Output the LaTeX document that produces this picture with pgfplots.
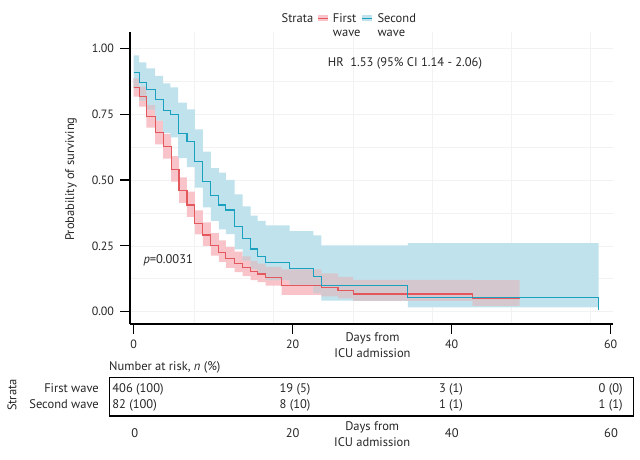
\documentclass[border=0pt]{standalone}
\usepackage{fontspec}
\setmainfont{PT Sans}
\usepackage{pgfplots}
\usepackage{pgfplotstable}
\pgfplotsset{compat=1.18}
\usepgfplotslibrary{fillbetween}

\definecolor{redline}{RGB}{226,88,92}
\definecolor{blueline}{RGB}{27,160,192}
\definecolor{redrib}{RGB}{248,196,201}
\definecolor{bluerib}{RGB}{192,226,236}
\definecolor{overlap}{RGB}{212,200,206}
\definecolor{gridc}{RGB}{242,242,242}

\pgfplotstableread{
t s lo up
0 0.851 0.817 0.886
0.67 0.816 0.779 0.855
1.6 0.740 0.699 0.784
2.7 0.679 0.635 0.726
3.7 0.626 0.581 0.675
4.7 0.540 0.494 0.591
5.7 0.459 0.413 0.510
6.7 0.405 0.360 0.456
7.7 0.336 0.293 0.385
8.7 0.291 0.250 0.339
9.7 0.252 0.213 0.298
10.7 0.226 0.189 0.271
11.6 0.202 0.166 0.245
12.7 0.184 0.150 0.228
13.7 0.168 0.135 0.210
14.7 0.152 0.120 0.193
15.6 0.143 0.112 0.182
16.6 0.128 0.099 0.170
18.6 0.098 0.064 0.160
23.6 0.091 0.058 0.145
25.7 0.080 0.050 0.132
27.6 0.067 0.041 0.121
42.6 0.049 0.022 0.120
48.55 0.049 0.022 0.120
}\first

\pgfplotstableread{
t s lo up
0 0.908 0.848 0.973
0.67 0.871 0.801 0.947
1.6 0.843 0.768 0.924
2.7 0.806 0.725 0.895
3.7 0.765 0.678 0.867
4.6 0.750 0.662 0.852
5.6 0.677 0.583 0.794
6.7 0.645 0.549 0.768
7.7 0.569 0.471 0.692
8.7 0.493 0.396 0.608
9.7 0.440 0.345 0.545
10.7 0.405 0.312 0.528
11.6 0.386 0.294 0.500
12.7 0.323 0.236 0.445
13.7 0.277 0.195 0.400
14.7 0.238 0.162 0.365
15.6 0.210 0.140 0.345
16.6 0.186 0.120 0.328
19.6 0.164 0.098 0.306
22.6 0.134 0.070 0.290
23.6 0.100 0.042 0.252
34.5 0.054 0.016 0.260
58.5 0.005 0.016 0.260
}\second

% where the two bands overlap
\pgfplotstableread{
t lo up
0 0.848 0.886
0.67 0.801 0.855
1.6 0.768 0.784
2.7 0.768 0.784
}\ovA

\pgfplotstableread{
t lo up
13.7 0.195 0.210
14.7 0.162 0.193
15.6 0.140 0.182
16.6 0.120 0.170
18.6 0.120 0.160
19.6 0.098 0.160
22.6 0.070 0.160
23.6 0.058 0.145
25.7 0.050 0.132
27.6 0.042 0.121
34.5 0.041 0.121
42.6 0.022 0.120
48.55 0.022 0.120
}\ovB

\begin{document}
\begin{tikzpicture}
\begin{axis}[
  at={(130pt,135pt)}, anchor=south west,
  scale only axis, width=483pt, height=292pt,
  xmin=-0.47, xmax=60.3, ymin=-0.047, ymax=1.062,
  axis x line*=bottom, axis y line*=left,
  axis line style={-, line width=1.4pt, black},
  tick pos=left,
  xtick={0,20,40,60}, xticklabels={0,20,40,60},
  ytick={0,0.25,0.5,0.75,1}, yticklabels={0.00,0.25,0.50,0.75,1.00},
  tick align=outside, major tick length=10pt,
  tick style={black, line width=1.2pt},
  tick label style={font=\fontsize{12}{14}\selectfont, text=black!85},
  yticklabel style={xshift=-2.5pt},
  xticklabel style={yshift=-2pt},
  ymajorgrids, yminorgrids, minor y tick num=1, minor tick length=0pt,
  extra x ticks={7.67,17.6,27.6,37.6,47.5,57.5}, extra x tick labels={},
  extra x tick style={grid=major, major tick length=0pt},
  grid style={gridc, line width=0.6pt},
  major grid style={gridc, line width=0.6pt},
  minor grid style={gridc, line width=0.6pt},
]
\addplot[const plot, draw=none, name path=rup, forget plot] table[x=t,y=up]{\first};
\addplot[const plot, draw=none, name path=rlo, forget plot] table[x=t,y=lo]{\first};
\addplot[const plot, draw=none, name path=bup, forget plot] table[x=t,y=up]{\second};
\addplot[const plot, draw=none, name path=blo, forget plot] table[x=t,y=lo]{\second};
\addplot[const plot, draw=none, name path=aup, forget plot] table[x=t,y=up]{\ovA};
\addplot[const plot, draw=none, name path=alo, forget plot] table[x=t,y=lo]{\ovA};
\addplot[const plot, draw=none, name path=cup, forget plot] table[x=t,y=up]{\ovB};
\addplot[const plot, draw=none, name path=clo, forget plot] table[x=t,y=lo]{\ovB};
\addplot[fill=redrib, draw=none] fill between[of=rup and rlo];
\addplot[fill=bluerib, draw=none] fill between[of=bup and blo];
\addplot[fill=overlap, draw=none] fill between[of=aup and alo];
\addplot[fill=overlap, draw=none] fill between[of=cup and clo];
\addplot[const plot, redline, line width=1.1pt] table[x=t,y=s]{\first};
\addplot[const plot, blueline, line width=1.1pt] table[x=t,y=s]{\second};
\end{axis}

\begin{scope}[every node/.style={font=\fontsize{12.5}{14}\selectfont, text=black!85, inner sep=0pt}]
% legend
\node[anchor=base] at (297.5pt,436.4pt) {Strata};
\fill[redrib] (317.7pt,437.7pt) rectangle (327.7pt,443.7pt);
\draw[redline, line width=1pt] (317.7pt,440.7pt) -- (327.7pt,440.7pt);
\node[anchor=base west] at (332.7pt,436.4pt) {First};
\node[anchor=base west] at (332.7pt,422.4pt) {wave};
\fill[bluerib] (362.3pt,437.7pt) rectangle (372.3pt,443.7pt);
\draw[blueline, line width=1pt] (362.3pt,440.7pt) -- (372.3pt,440.7pt);
\node[anchor=base west] at (377.3pt,436.4pt) {Second};
\node[anchor=base west] at (377.3pt,422.4pt) {wave};
% annotations
\node[anchor=base west] at (327.7pt,392.4pt) {HR\ \ 1.53 (95\% CI 1.14 - 2.06)};
\node[anchor=base west] at (143.3pt,195.7pt) {\textit{p}=0.0031};
\node[rotate=90] at (71pt,280pt) {Probability of surviving};
\node[anchor=base] at (372.5pt,118pt) {Days from};
\node[anchor=base] at (372.5pt,101.4pt) {ICU admission};
% risk table
\node[anchor=base west] at (109pt,88.7pt) {Number at risk, \textit{n} (\%)};
\draw[black, line width=1.3pt] (109.4pt,43pt) rectangle (633.5pt,81.3pt);
\node[anchor=base east] at (99pt,66.4pt) {First wave};
\node[anchor=base east] at (99pt,50.7pt) {Second wave};
\node[rotate=90] at (12pt,64pt) {Strata};
\node[anchor=base west] at (112.2pt,66.4pt) {406 (100)};
\node[anchor=base west] at (112.2pt,50.7pt) {82 (100)};
\node[anchor=base] at (295pt,66.4pt) {19 (5)};
\node[anchor=base] at (295pt,50.7pt) {8 (10)};
\node[anchor=base] at (451pt,66.4pt) {3 (1)};
\node[anchor=base] at (451pt,50.7pt) {1 (1)};
\node[anchor=base] at (610.6pt,66.4pt) {0 (0)};
\node[anchor=base] at (610.6pt,50.7pt) {1 (1)};
\node[anchor=base] at (134.7pt,21.4pt) {0};
\node[anchor=base] at (292.7pt,21.4pt) {20};
\node[anchor=base] at (451.8pt,21.4pt) {40};
\node[anchor=base] at (611pt,21.4pt) {60};
\node[anchor=base] at (372.2pt,28.7pt) {Days from};
\node[anchor=base] at (372.2pt,13pt) {ICU admission};
\end{scope}
\path (0,0) rectangle (640pt,459pt);
\end{tikzpicture}
\end{document}
